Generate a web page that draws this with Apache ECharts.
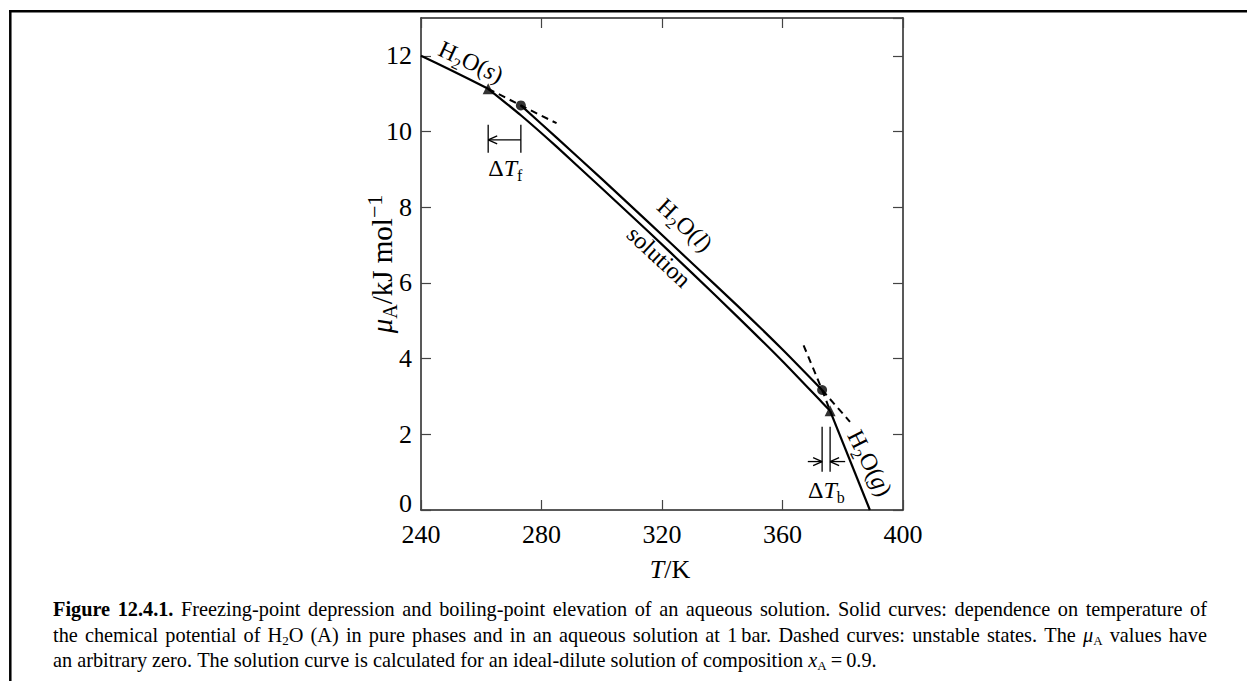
<!DOCTYPE html>
<html>
<head>
<meta charset="utf-8">
<title>Freezing-point depression and boiling-point elevation</title>
<script src="https://cdn.jsdelivr.net/npm/echarts@6.0.0/dist/echarts.min.js"></script>
<style>
html,body{margin:0;padding:0;background:#ffffff;}
#chart{width:1247px;height:681px;}
</style>
</head>
<body>
<div id="chart"></div>
<script>
// ---------------- data ----------------
const xTickValues = [240, 280, 320, 360, 400];
const yTickValues = [0, 2, 4, 6, 8, 10, 12];
const yAxisTop = 13;

// H2O(s)
const solidT  = [240, 250, 262.3, 273.15, 285];
const solidMu = [12.00, 11.62, 11.13, 10.69, 10.22];
// H2O(l)
const liquidT  = [273.15, 285, 300, 315, 330, 345, 360, 373.15, 382.4];
const liquidMu = [10.69, 9.84, 8.75, 7.64, 6.52, 5.40, 4.24, 3.17, 2.33];
// solution
const solutionT  = [262.3, 273.15, 285, 300, 315, 330, 345, 360, 373.15, 375.8];
const solutionMu = [11.13, 10.43, 9.60, 8.50, 7.39, 6.26, 5.11, 3.93, 2.84, 2.62];
// H2O(g)
const gasT  = [367.0, 373.15, 375.8, 389.0];
const gasMu = [4.35, 3.17, 2.62, 0.00];
// phase transitions: pure water (circles) and solution (triangles)
const pureTransT  = [273.15, 373.15];
const pureTransMu = [10.69, 3.17];
const solnTransT  = [262.3, 375.8];
const solnTransMu = [11.13, 2.62];

// caption (rich-text words)
const captionLines = [
  '{b|Figure} {b|12.4.1.} Freezing-point depression and boiling-point elevation of an aqueous solution.  Solid curves: dependence on temperature of',
  'the chemical potential of H{s|2}O (A) in pure phases and in an aqueous solution at 1\u2009bar.  Dashed curves: unstable states.  The {i|\u03bc}{s|A} values have',
  'an arbitrary zero.  The solution curve is calculated for an ideal-dilute solution of composition {i|x}{s|A}\u2009=\u20090.9.'
];

// ---------------- helpers ----------------
const FONT = 'Liberation Serif';
function pairs(T, M, keep) {
  const out = [];
  T.forEach((t, i) => { if (keep(t)) out.push([t, M[i]]); });
  return out;
}
const EPS = 1e-9;

const chart = echarts.init(document.getElementById('chart'), null, {renderer: 'svg', width: 1247, height: 681});

const lineBase = {type: 'line', showSymbol: false, smooth: 0.2, silent: true,
  xAxisIndex: 0, yAxisIndex: 0, z: 3};
const solidStyle = {color: '#000', width: 2.2, type: 'solid'};
const dashStyle = {color: '#000', width: 2, type: [7, 5]};

const series = [
  Object.assign({}, lineBase, {name: 'H2O(s)', data: pairs(solidT, solidMu, t => t <= solnTransT[0] + EPS), lineStyle: solidStyle}),
  Object.assign({}, lineBase, {name: 'H2O(s) unstable', data: pairs(solidT, solidMu, t => t >= solnTransT[0] - EPS), lineStyle: dashStyle}),
  Object.assign({}, lineBase, {name: 'H2O(l)', data: pairs(liquidT, liquidMu, t => t <= pureTransT[1] + EPS), lineStyle: solidStyle}),
  Object.assign({}, lineBase, {name: 'H2O(l) unstable', data: pairs(liquidT, liquidMu, t => t >= pureTransT[1] - EPS), lineStyle: dashStyle}),
  Object.assign({}, lineBase, {name: 'solution', data: pairs(solutionT, solutionMu, () => true), lineStyle: solidStyle}),
  Object.assign({}, lineBase, {name: 'H2O(g) unstable', data: pairs(gasT, gasMu, t => t <= solnTransT[1] + EPS), lineStyle: dashStyle}),
  Object.assign({}, lineBase, {name: 'H2O(g)', data: pairs(gasT, gasMu, t => t >= solnTransT[1] - EPS), lineStyle: solidStyle}),
  {type: 'scatter', name: 'pure', symbol: 'circle', symbolSize: 10, itemStyle: {color: '#000'}, z: 5, silent: true,
   data: pairs(pureTransT, pureTransMu, () => true)},
  {type: 'scatter', name: 'solution transitions', symbol: 'triangle', symbolSize: 11, itemStyle: {color: '#000'}, z: 5, silent: true,
   data: pairs(solnTransT, solnTransMu, () => true)}
];

// annotation layout (in data units)
const annoF = {top: 10.18, bottom: 9.44, arrow: 9.78, labelT: 268.0, labelMu: 9.04};
const annoB = {top: 2.20, bottom: 1.01, arrow: 1.28, leftTail: 368.4, rightTail: 380.8, labelT: 374.6, labelMu: 0.53};
const curveLabels = [
  {text: '{n|H}{s|2}{n|O(}{i|s}{n|)}', T: 256.6, mu: 11.84, angle: -25},
  {text: '{n|H}{s|2}{n|O(}{i|l}{n|)}', T: 327.6, mu: 7.53, angle: -43},
  {text: '{n|solution}', T: 319.0, mu: 6.69, angle: -43},
  {text: '{n|H}{s|2}{n|O(}{i|g}{n|)}', T: 389.0, mu: 1.24, angle: -63}
];

function richSet(size) {
  return {
    n: {fontFamily: FONT, fontSize: size, fontStyle: 'normal', fontWeight: 'normal', lineHeight: size + 8},
    i: {fontFamily: FONT, fontSize: size, fontStyle: 'italic', fontWeight: 'normal', lineHeight: size + 8},
    s: {fontFamily: FONT, fontSize: Math.round(size * 0.68), fontStyle: 'normal', fontWeight: 'normal',
        lineHeight: Math.round(size * 0.68), verticalAlign: 'bottom'},
    p: {fontFamily: FONT, fontSize: Math.round(size * 0.75), fontStyle: 'normal', fontWeight: 'normal',
        lineHeight: Math.round(size * 0.75), verticalAlign: 'top'}
  };
}

function renderAnno(params, api) {
  const P = (t, m) => api.coord([t, m]);
  const ch = [];
  const seg = (a, b, w) => ch.push({type: 'line', shape: {x1: a[0], y1: a[1], x2: b[0], y2: b[1]},
    style: {stroke: '#000', lineWidth: w || 1.3}});
  const arrow = (tail, tip) => {
    seg(tail, tip);
    const d = Math.sign(tail[0] - tip[0]);
    seg(tip, [tip[0] + d * 9, tip[1] - 4]);
    seg(tip, [tip[0] + d * 9, tip[1] + 4]);
  };
  const label = (text, T, mu, angle, size) => {
    const p = P(T, mu);
    ch.push({type: 'text', x: p[0], y: p[1], rotation: (angle || 0) * Math.PI / 180,
      style: {text: text, rich: richSet(size), fill: '#000', align: 'center', verticalAlign: 'middle',
        fontFamily: FONT, fontSize: size, lineHeight: size + 8}});
  };
  // freezing-point depression
  seg(P(solnTransT[0], annoF.top), P(solnTransT[0], annoF.bottom));
  seg(P(pureTransT[0], annoF.top), P(pureTransT[0], annoF.bottom));
  arrow(P(pureTransT[0], annoF.arrow), P(solnTransT[0], annoF.arrow));
  label('{n|\u0394}{i|T}{s|f}', annoF.labelT, annoF.labelMu, 0, 24);
  // boiling-point elevation
  seg(P(pureTransT[1], annoB.top), P(pureTransT[1], annoB.bottom));
  seg(P(solnTransT[1], annoB.top), P(solnTransT[1], annoB.bottom));
  arrow(P(annoB.leftTail, annoB.arrow), P(pureTransT[1], annoB.arrow));
  arrow(P(annoB.rightTail, annoB.arrow), P(solnTransT[1], annoB.arrow));
  label('{n|\u0394}{i|T}{s|b}', annoB.labelT, annoB.labelMu, 0, 24);
  // curve labels
  curveLabels.forEach(c => label(c.text, c.T, c.mu, c.angle, 24));
  return {type: 'group', children: ch};
}

series.push({type: 'custom', name: 'annotations', coordinateSystem: 'cartesian2d', silent: true, z: 6,
  data: [[xTickValues[0], 0]], renderItem: renderAnno, clip: false});

// ---------------- caption with justified lines ----------------
const CAP_SIZE = 20.3;
const capRich = {
  b: {fontFamily: FONT, fontSize: CAP_SIZE, fontWeight: 'bold', fontStyle: 'normal', lineHeight: 24},
  i: {fontFamily: FONT, fontSize: CAP_SIZE, fontWeight: 'normal', fontStyle: 'italic', lineHeight: 24},
  s: {fontFamily: FONT, fontSize: 13, fontWeight: 'normal', fontStyle: 'normal', lineHeight: 13, verticalAlign: 'bottom'}
};
const mctx = document.createElement('canvas').getContext('2d');
function fontOf(name) {
  const st = capRich[name] || {fontSize: CAP_SIZE, fontWeight: 'normal', fontStyle: 'normal'};
  return st.fontStyle + ' ' + st.fontWeight + ' ' + st.fontSize + 'px ' + FONT;
}
function measureWord(word) {
  let w = 0;
  const re = /\{(\w+)\|([^}]*)\}|([^{]+)/g;
  let m;
  while ((m = re.exec(word))) {
    const name = m[1] || 'n';
    const txt = m[1] ? m[2] : m[3];
    mctx.font = fontOf(name);
    w += mctx.measureText(txt).width;
  }
  return w;
}
const capLeft = 53, capRight = 1207;
const capY = [609, 635, 660];
const captionEls = [];
captionLines.forEach((line, li) => {
  const words = line.split(/ +/);
  const widths = words.map(measureWord);
  const total = widths.reduce((a, b) => a + b, 0);
  const justify = li < captionLines.length - 1;
  mctx.font = fontOf('n');
  const gap = justify ? (capRight - capLeft - total) / (words.length - 1) : mctx.measureText(' ').width;
  let x = capLeft;
  words.forEach((w, wi) => {
    captionEls.push({type: 'text', x: x, y: capY[li], silent: true, z: 10,
      style: {text: w, rich: capRich, fill: '#000', fontFamily: FONT, fontSize: CAP_SIZE, lineHeight: 24,
        align: 'left', verticalAlign: 'middle'}});
    x += widths[wi] + gap;
  });
});

// ---------------- axes ----------------
const axisLineStyle = {color: '#222', width: 1.5};
const tickStyle = {show: true, inside: true, length: 10, lineStyle: {color: '#444', width: 1.2}};
const xMin = xTickValues[0], xMax = xTickValues[xTickValues.length - 1], xStep = xTickValues[1] - xTickValues[0];
const yMin = yTickValues[0], yStep = yTickValues[1] - yTickValues[0];
const TICK_FS = 26;
const tickRich = {
  a: {fontFamily: FONT, fontSize: TICK_FS, fontStyle: 'normal', fontWeight: 'normal', lineHeight: 18, color: '#000'},
  z: {fontFamily: FONT, fontSize: TICK_FS, fontStyle: 'normal', fontWeight: 'normal', lineHeight: 18, color: '#000',
      padding: [0, 0, 14, 0]}
};

const option = {
  animation: false,
  backgroundColor: '#ffffff',
  textStyle: {fontFamily: FONT, color: '#000'},
  grid: {left: 421, right: 344, top: 18, bottom: 171, containLabel: false, outerBoundsMode: 'none'},
  xAxis: [
    {type: 'value', position: 'bottom', min: xMin, max: xMax, interval: xStep,
     axisLine: {show: true, onZero: false, lineStyle: axisLineStyle}, axisTick: tickStyle, splitLine: {show: false},
     axisLabel: {color: '#000', fontFamily: FONT, fontSize: TICK_FS, lineHeight: 18, margin: 15,
       formatter: v => '{a|' + v + '}', rich: tickRich},
     name: '{i|T}{n|/K}', nameLocation: 'middle', nameGap: 42, nameMoveOverlap: false,
     nameTextStyle: {color: '#000', fontFamily: FONT, fontSize: 26, lineHeight: 30, padding: [0, 0, 0, 16], rich: richSet(26)}},
    {type: 'value', position: 'top', min: xMin, max: xMax, interval: xStep,
     axisLine: {show: true, onZero: false, lineStyle: axisLineStyle}, axisTick: tickStyle, splitLine: {show: false},
     axisLabel: {show: false}}
  ],
  yAxis: [
    {type: 'value', position: 'left', min: yMin, max: yAxisTop, interval: yStep,
     axisLine: {show: true, onZero: false, lineStyle: axisLineStyle}, axisTick: tickStyle, splitLine: {show: false},
     axisLabel: {color: '#000', fontFamily: FONT, fontSize: TICK_FS, lineHeight: 18, margin: 9, showMaxLabel: false,
       formatter: v => (v === yMin ? '{z|' + v + '}' : '{a|' + v + '}'), rich: tickRich},
     name: '{i|\u03bc}{s|A}{n|/kJ mol}{p|\u22121}', nameLocation: 'middle', nameGap: 21, nameRotate: 90,
     nameMoveOverlap: false,
     nameTextStyle: {color: '#000', fontFamily: FONT, fontSize: 29, lineHeight: 37, rich: richSet(29)}},
    {type: 'value', position: 'right', min: yMin, max: yAxisTop, interval: yStep,
     axisLine: {show: true, onZero: false, lineStyle: axisLineStyle}, axisTick: tickStyle, splitLine: {show: false},
     axisLabel: {show: false}}
  ],
  graphic: {elements: [
    {type: 'line', shape: {x1: 9, y1: 11.2, x2: 1247, y2: 11.2}, style: {stroke: '#000', lineWidth: 2.5}, silent: true},
    {type: 'line', shape: {x1: 10.3, y1: 10, x2: 10.3, y2: 681}, style: {stroke: '#000', lineWidth: 2.5}, silent: true}
  ].concat(captionEls)},
  series: series
};
chart.setOption(option);
</script>
</body>
</html>
